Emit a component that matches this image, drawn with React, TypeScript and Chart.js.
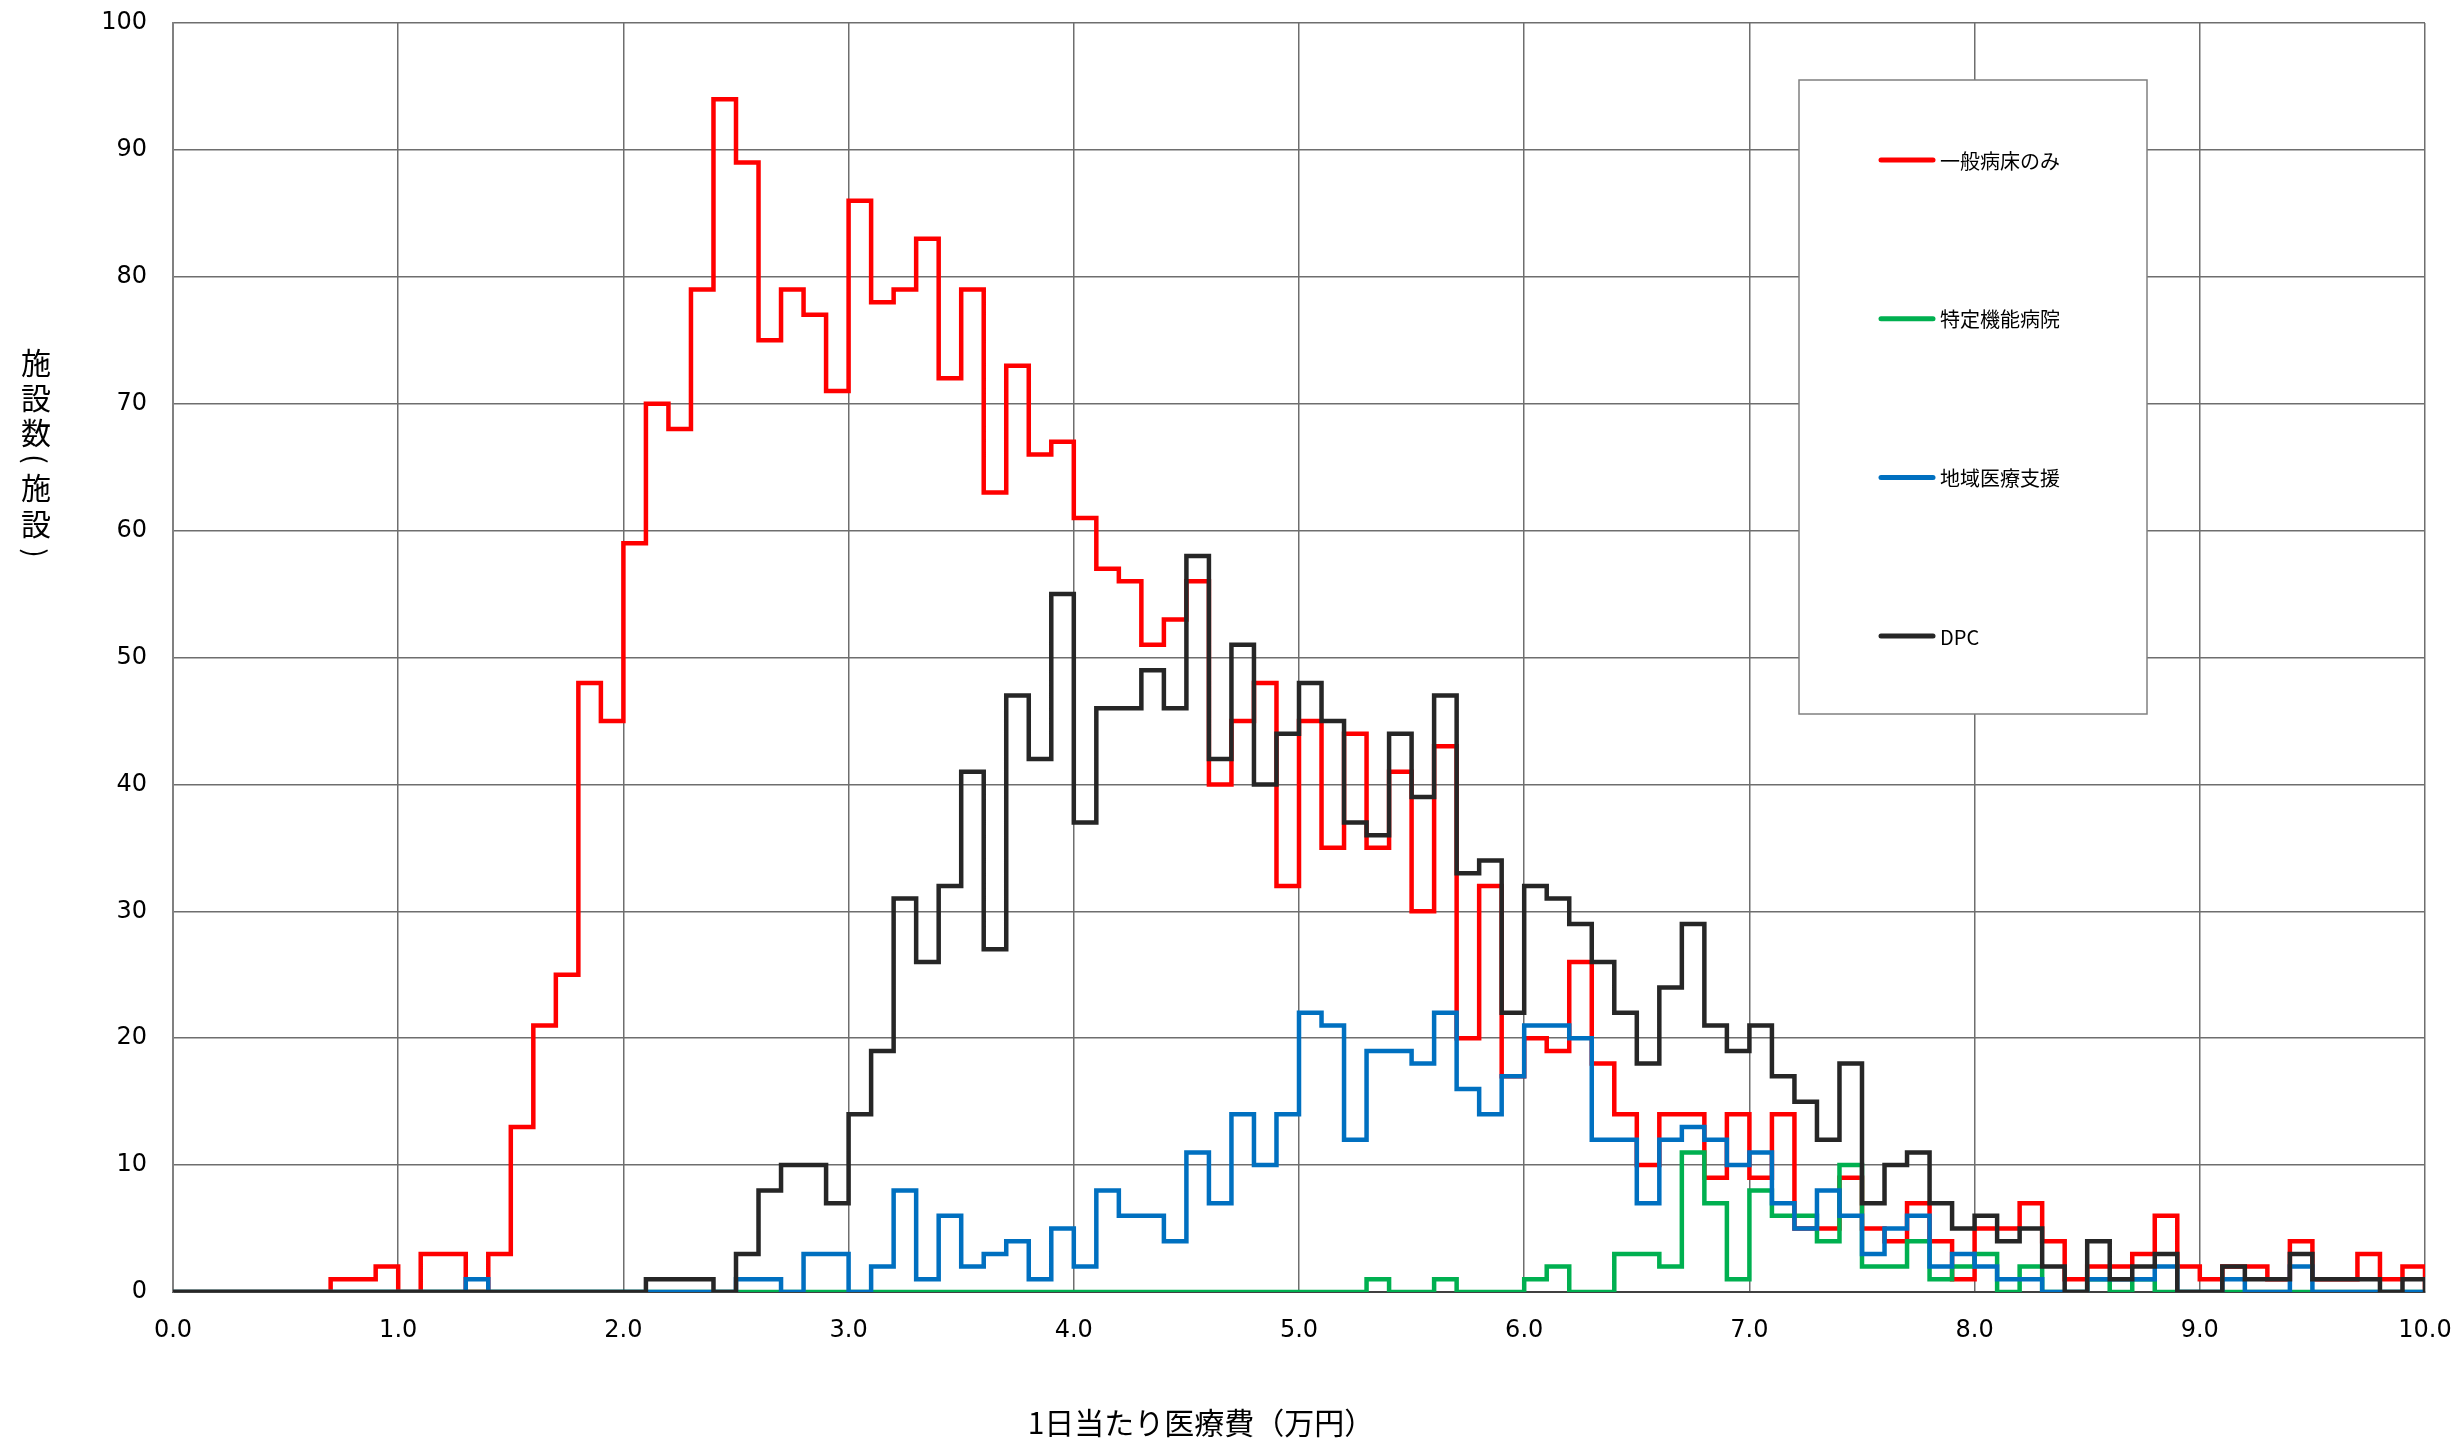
import React, { useEffect, useRef } from "react";
import { Chart, registerables } from "chart.js";

Chart.register(...registerables);

// ---- data ----
const BIN_WIDTH = 0.1; // 万円
const X_MIN = 0;
const X_MAX = 10;
const Y_MIN = 0;
const Y_MAX = 100;
const X_STEP = 1;
const Y_STEP = 10;

const SERIES_NAMES = ["一般病床のみ", "特定機能病院", "地域医療支援", "DPC"];
const SERIES_COLORS = ["#FF0000", "#00B050", "#0070C0", "#262626"];

// bin start 0.0, 0.1, ... 9.9
const IPPAN = [
  0, 0, 0, 0, 0, 0, 0, 1, 1, 2,
  0, 3, 3, 0, 3, 13, 21, 25, 48, 45,
  59, 70, 68, 79, 94, 89, 75, 79, 77, 71,
  86, 78, 79, 83, 72, 79, 63, 73, 66, 67,
  61, 57, 56, 51, 53, 56, 40, 45, 48, 32,
  45, 35, 44, 35, 41, 30, 43, 20, 32, 17,
  20, 19, 26, 18, 14, 10, 14, 14, 9, 14,
  9, 14, 5, 5, 9, 5, 4, 7, 4, 1,
  5, 5, 7, 4, 1, 2, 2, 3, 6, 2,
  1, 2, 2, 1, 4, 1, 1, 3, 1, 2,
];

const TOKUTEI = [
  0, 0, 0, 0, 0, 0, 0, 0, 0, 0,
  0, 0, 0, 0, 0, 0, 0, 0, 0, 0,
  0, 0, 0, 0, 0, 0, 0, 0, 0, 0,
  0, 0, 0, 0, 0, 0, 0, 0, 0, 0,
  0, 0, 0, 0, 0, 0, 0, 0, 0, 0,
  0, 0, 0, 1, 0, 0, 1, 0, 0, 0,
  1, 2, 0, 0, 3, 3, 2, 11, 7, 1,
  8, 6, 6, 4, 10, 2, 2, 4, 1, 2,
  3, 0, 2, 0, 0, 1, 0, 1, 0, 0,
  0, 0, 0, 0, 0, 0, 0, 0, 0, 0,
];

const CHIIKI = [
  0, 0, 0, 0, 0, 0, 0, 0, 0, 0,
  0, 0, 0, 1, 0, 0, 0, 0, 0, 0,
  0, 0, 0, 0, 0, 1, 1, 0, 3, 3,
  0, 2, 8, 1, 6, 2, 3, 4, 1, 5,
  2, 8, 6, 6, 4, 11, 7, 14, 10, 14,
  22, 21, 12, 19, 19, 18, 22, 16, 14, 17,
  21, 21, 20, 12, 12, 7, 12, 13, 12, 10,
  11, 7, 5, 8, 6, 3, 5, 6, 2, 3,
  2, 1, 1, 0, 0, 1, 1, 1, 2, 0,
  0, 1, 0, 0, 2, 0, 0, 0, 0, 0,
];

const DPC = [
  0, 0, 0, 0, 0, 0, 0, 0, 0, 0,
  0, 0, 0, 0, 0, 0, 0, 0, 0, 0,
  0, 1, 1, 1, 0, 3, 8, 10, 10, 7,
  14, 19, 31, 26, 32, 41, 27, 47, 42, 55,
  37, 46, 46, 49, 46, 58, 42, 51, 40, 44,
  48, 45, 37, 36, 44, 39, 47, 33, 34, 22,
  32, 31, 29, 26, 22, 18, 24, 29, 21, 19,
  21, 17, 15, 12, 18, 7, 10, 11, 7, 5,
  6, 4, 5, 2, 0, 4, 1, 2, 3, 0,
  0, 2, 1, 1, 3, 1, 1, 1, 0, 1,
];

const SERIES_VALUES = [IPPAN, TOKUTEI, CHIIKI, DPC];

const X_TITLE = "1日当たり医療費（万円）";
const Y_TITLE_CHARS = ["施", "設", "数", "(", "施", "設", ")"];

// ---- helpers ----
const toSteps = (values: number[]) => {
  const pts = values.map((v, i) => ({ x: Math.round(i * BIN_WIDTH * 10) / 10, y: v }));
  pts.push({ x: X_MAX, y: 0 });
  return pts;
};

const FONT_TICK = { family: "'DejaVu Sans', sans-serif", size: 24 };
const JP = "'Noto Sans CJK JP', sans-serif";

const decorPlugin = {
  id: "refDecor",
  afterDraw(chart: any) {
    const ctx = chart.ctx as CanvasRenderingContext2D;
    ctx.save();
    // legend box
    const bx = 1799, by = 80, bw = 348, bh = 634;
    ctx.fillStyle = "#ffffff";
    ctx.fillRect(bx, by, bw, bh);
    ctx.strokeStyle = "#808080";
    ctx.lineWidth = 1.5;
    ctx.strokeRect(bx, by, bw, bh);
    SERIES_NAMES.forEach((name, i) => {
      const y = 160 + i * 158.7;
      ctx.strokeStyle = SERIES_COLORS[i];
      ctx.lineWidth = 5;
      ctx.lineCap = "round";
      ctx.beginPath();
      ctx.moveTo(1881, y);
      ctx.lineTo(1933, y);
      ctx.stroke();
      ctx.fillStyle = "#000";
      ctx.font = `20px ${JP}`;
      ctx.textAlign = "left";
      ctx.textBaseline = "middle";
      ctx.fillText(name, 1940, y + 1);
    });

    // x title
    ctx.fillStyle = "#000";
    ctx.font = `30px ${JP}`;
    ctx.textAlign = "center";
    ctx.textBaseline = "middle";
    ctx.fillText(X_TITLE, 1201, 1423);

    // y title (vertical)
    const yPos = [363, 398, 433, 459, 488, 524, 553];
    Y_TITLE_CHARS.forEach((ch, i) => {
      if (ch === "(" || ch === ")") {
        ctx.save();
        ctx.translate(36, yPos[i]);
        ctx.rotate(Math.PI / 2);
        ctx.font = `28px ${JP}`;
        ctx.fillText(ch, 0, 0);
        ctx.restore();
      } else {
        ctx.font = `30px ${JP}`;
        ctx.fillText(ch, 36, yPos[i]);
      }
    });
    ctx.restore();
  },
};

export default function App() {
  const canvasRef = useRef<HTMLCanvasElement | null>(null);

  useEffect(() => {
    if (!canvasRef.current) return;
    const datasets = SERIES_VALUES.map((vals, i) => ({
      label: SERIES_NAMES[i],
      data: toSteps(vals),
      borderColor: SERIES_COLORS[i],
      backgroundColor: SERIES_COLORS[i],
      borderWidth: 4.5,
      stepped: "before" as const,
      pointRadius: 0,
      fill: false,
      borderJoinStyle: "miter" as const,
      borderCapStyle: "butt" as const,
      order: 4 - i,
    }));

    const chart = new Chart(canvasRef.current, {
      type: "line",
      data: { datasets },
      options: {
        animation: false,
        responsive: false,
        devicePixelRatio: 1,
        layout: { padding: { top: 23, right: 36, left: 0, bottom: 0 } },
        plugins: {
          legend: { display: false },
          tooltip: { enabled: false },
        },
        scales: {
          x: {
            type: "linear",
            min: X_MIN,
            max: X_MAX,
            ticks: {
              stepSize: X_STEP,
              callback: (v: any) => Number(v).toFixed(1),
              font: FONT_TICK,
              color: "#000",
              padding: 24,
              maxRotation: 0,
            },
            grid: { color: "#6e6e6e", lineWidth: 1.5, drawTicks: false },
            border: { color: "#404040", width: 2 },
            afterFit: (s: any) => {
              s.height = 152;
              s.paddingLeft = 0;
              s.paddingRight = 0;
            },
          },
          y: {
            min: Y_MIN,
            max: Y_MAX,
            ticks: {
              stepSize: Y_STEP,
              font: FONT_TICK,
              color: "#000",
              padding: 26,
            },
            grid: { color: "#6e6e6e", lineWidth: 1.5, drawTicks: false },
            border: { color: "#808080", width: 2 },
            afterFit: (s: any) => {
              s.width = 173;
              s.paddingTop = 0;
              s.paddingBottom = 0;
            },
          },
        },
      },
      plugins: [decorPlugin],
    });
    return () => chart.destroy();
  }, []);

  return (
    <div
      style={{
        position: "fixed",
        left: 0,
        top: 0,
        width: 2461,
        height: 1444,
        background: "#ffffff",
      }}
    >
      <canvas ref={canvasRef} width={2461} height={1444} style={{ display: "block" }} />
    </div>
  );
}
